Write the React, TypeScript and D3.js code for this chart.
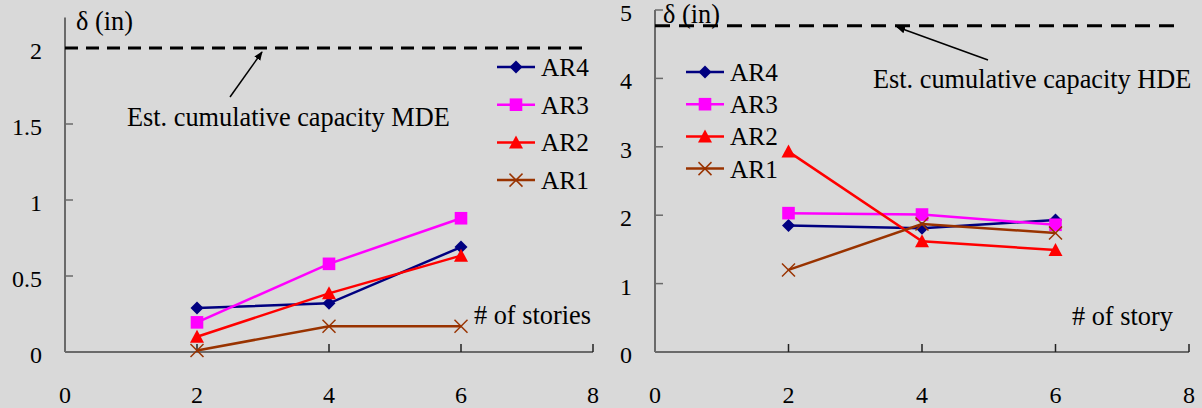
import React from "react";
import * as d3 from "d3";

const stories = [2, 4, 6];
const seriesNames = ["AR4", "AR3", "AR2", "AR1"];
const seriesColors = ["#000080", "#ff00ff", "#ff0000", "#993300"];
const seriesMarkers = ["diamond", "square", "triangle", "x"];

// Left panel (MDE)
const mdeAR4 = [0.29, 0.32, 0.69];
const mdeAR3 = [0.195, 0.58, 0.88];
const mdeAR2 = [0.1, 0.386, 0.634];
const mdeAR1 = [0.01, 0.17, 0.17];
const mdeCapacity = 2.0;
const mdeYTicks = [0, 0.5, 1, 1.5, 2];

// Right panel (HDE)
const hdeAR4 = [1.85, 1.81, 1.93];
const hdeAR3 = [2.03, 2.01, 1.86];
const hdeAR2 = [2.93, 1.62, 1.49];
const hdeAR1 = [1.2, 1.87, 1.74];
const hdeCapacity = 4.77;
const hdeYTicks = [0, 1, 2, 3, 4, 5];

const xTicks = [0, 2, 4, 6, 8];

const FONT = '"Liberation Serif", Tinos, "Times New Roman", "DejaVu Serif", serif';
const FS_TICK = 24;
const FS_LEG = 25.3;
const FS_NOTE = 26.3;
const AXIS = "#6a6a6a";

function Marker({ type, x, y, color }: { type: string; x: number; y: number; color: string }) {
  if (type === "x") {
    const s = 6.5;
    return (
      <g stroke={color} strokeWidth={1.5}>
        <line x1={x - s} y1={y - s} x2={x + s} y2={y + s} />
        <line x1={x - s} y1={y + s} x2={x + s} y2={y - s} />
      </g>
    );
  }
  let p = "";
  if (type === "diamond") p = "M0,-6.5L6.5,0L0,6.5L-6.5,0Z";
  else if (type === "square") p = "M-6.3,-6.3H6.3V6.3H-6.3Z";
  else p = "M0,-7L7,6L-7,6Z";
  return <path d={p} transform={`translate(${x},${y})`} fill={color} />;
}

function Panel({
  xRange,
  yDomain,
  yRange,
  yTicks,
  data,
  capacity,
  dash,
  legendX,
  legendY,
  legendStep,
  xLabel,
  xLabelPos,
  capText,
  capTextPos,
  arrow,
  deltaPos,
  topTick,
}: any) {
  const x = d3.scaleLinear().domain([0, 8]).range(xRange);
  const y = d3.scaleLinear().domain(yDomain).range(yRange);
  const line = d3
    .line<[number, number]>()
    .x((d) => x(d[0]))
    .y((d) => y(d[1]));
  const x0 = x(0);
  const y0 = y(0);
  return (
    <g style={{ fontFamily: FONT, fontSize: FS_TICK }} fill="#000">
      {/* axes */}
      <line x1={x0} y1={y(yDomain[1])} x2={x0} y2={y0} stroke={AXIS} strokeWidth={2} />
      <line x1={x0} y1={y0} x2={x(8)} y2={y0} stroke={AXIS} strokeWidth={2} />
      {yTicks.map((t: number) => (
        <g key={"y" + t}>
          {(t > 0 && (t < yDomain[1] || topTick)) && (
            <line x1={x0} x2={x0 + 8} y1={y(t)} y2={y(t)} stroke={AXIS} strokeWidth={1.5} />
          )}
          <text x={x0 - 23} y={y(t) + 11} textAnchor="end">
            {t}
          </text>
        </g>
      ))}
      {xTicks.map((t) => (
        <g key={"x" + t}>
          {t > 0 && <line x1={x(t)} x2={x(t)} y1={y0} y2={y0 - 8} stroke="#222" strokeWidth={1.5} />}
          <text x={x(t)} y={403} textAnchor="middle">
            {t}
          </text>
        </g>
      ))}
      {/* capacity line */}
      <line
        x1={x0}
        x2={x(7.9)}
        y1={y(capacity)}
        y2={y(capacity)}
        stroke="#000"
        strokeWidth={3}
        strokeDasharray={dash}
      />
      <text x={deltaPos[0]} y={deltaPos[1]} style={{ fontSize: FS_NOTE }}>δ (in)</text>
      <text x={capTextPos[0]} y={capTextPos[1]} style={{ fontSize: FS_NOTE }}>{capText}</text>
      <line x1={arrow[0]} y1={arrow[1]} x2={arrow[2]} y2={arrow[3]} stroke="#000" strokeWidth={1.5} markerEnd="url(#ah)" />
      <text x={xLabelPos[0]} y={xLabelPos[1]} style={{ fontSize: FS_NOTE }}>{xLabel}</text>
      {/* series */}
      {data.map((vals: number[], i: number) => {
        const pts = stories.map((s, j) => [s, vals[j]] as [number, number]);
        return (
          <g key={"s" + i}>
            <path d={line(pts) || ""} fill="none" stroke={seriesColors[i]} strokeWidth={2.5} />
            {pts.map((p, j) => (
              <Marker key={j} type={seriesMarkers[i]} x={x(p[0])} y={y(p[1])} color={seriesColors[i]} />
            ))}
          </g>
        );
      })}
      {/* legend */}
      {seriesNames.map((n, i) => {
        const ly = legendY + i * legendStep;
        return (
          <g key={"l" + i}>
            <line x1={legendX} x2={legendX + 38} y1={ly} y2={ly} stroke={seriesColors[i]} strokeWidth={2.5} />
            <Marker type={seriesMarkers[i]} x={legendX + 19} y={ly} color={seriesColors[i]} />
            <text x={legendX + 44} y={ly + 9} style={{ fontSize: FS_LEG }}>{n}</text>
          </g>
        );
      })}
    </g>
  );
}

export default function App() {
  return (
    <svg
      width={1202}
      height={408}
      style={{ position: "absolute", left: 0, top: 0, background: "#d9d9d9" }}
    >
      <defs>
        <marker id="ah" viewBox="0 0 10 10" refX="9" refY="5" markerWidth="6" markerHeight="6" orient="auto-start-reverse">
          <path d="M0,1 L10,5 L0,9 z" fill="#000" />
        </marker>
      </defs>
      <rect width={1202} height={408} fill="#d9d9d9" />
      <Panel
        xRange={[65, 593]}
        yDomain={[0, 2.2]}
        yRange={[352, 17.6]}
        yTicks={mdeYTicks}
        data={[mdeAR4, mdeAR3, mdeAR2, mdeAR1]}
        capacity={mdeCapacity}
        dash="13,8"
        legendX={497}
        legendY={67}
        legendStep={37.7}
        xLabel="# of stories"
        xLabelPos={[474, 324]}
        capText="Est. cumulative capacity MDE"
        capTextPos={[127, 126]}
        arrow={[230, 97, 262, 52]}
        deltaPos={[76, 30]}
        topTick={false}
      />
      <Panel
        xRange={[655, 1189]}
        yDomain={[0, 5]}
        yRange={[352, 10]}
        yTicks={hdeYTicks}
        data={[hdeAR4, hdeAR3, hdeAR2, hdeAR1]}
        capacity={hdeCapacity}
        dash="15,9"
        legendX={686}
        legendY={72}
        legendStep={32.2}
        xLabel="# of story"
        xLabelPos={[1072, 325]}
        capText="Est. cumulative capacity HDE"
        capTextPos={[873, 88]}
        arrow={[988, 60, 897, 27]}
        deltaPos={[663, 23]}
        topTick={true}
      />
    </svg>
  );
}
